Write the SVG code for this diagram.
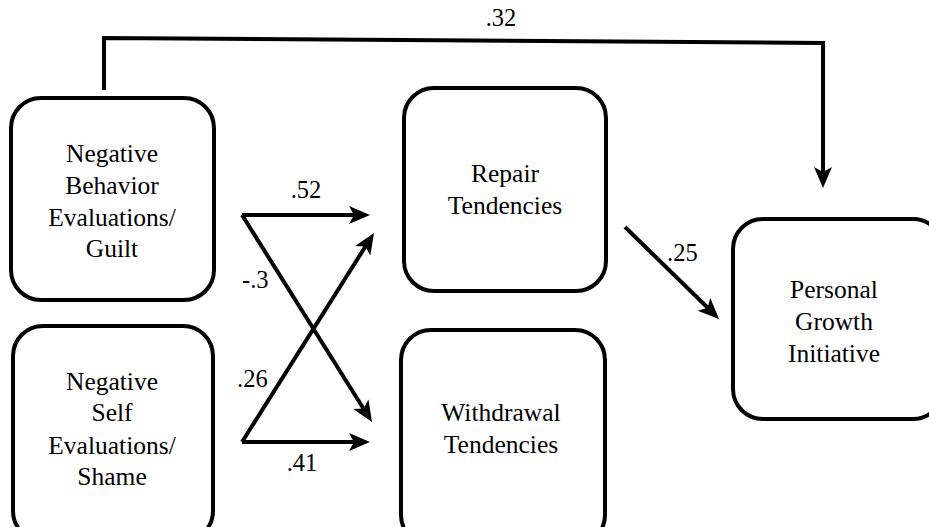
<svg xmlns="http://www.w3.org/2000/svg" width="929" height="527" viewBox="0 0 929 527">
<defs>
<style>
.box{fill:#fff;stroke:#000;stroke-width:4}
.t{font-family:'Liberation Serif','Times New Roman',serif;font-size:25.5px;fill:#000;text-anchor:middle}
.l{font-family:'Liberation Serif','Times New Roman',serif;font-size:24.5px;fill:#000}
.c{fill:none;stroke:#000;stroke-width:4}
</style>
<path id="ah" d="M0,0 L-21,-9 L-16,0 L-21,9 Z" fill="#000"/>
</defs>
<rect width="929" height="527" fill="#fff"/>
<g id="connectors">
<polyline class="c" points="104,90 104,38 823,43 823,175"/>
<use href="#ah" transform="translate(823,188) rotate(90)"/>
<line class="c" x1="242" y1="215" x2="358" y2="215"/>
<use href="#ah" transform="translate(370,215)"/>
<line class="c" x1="242" y1="215" x2="365" y2="411"/>
<use href="#ah" transform="translate(372,422) rotate(57.9)"/>
<line class="c" x1="242" y1="442" x2="358" y2="442"/>
<use href="#ah" transform="translate(370,442)"/>
<line class="c" x1="242" y1="442" x2="367" y2="244"/>
<use href="#ah" transform="translate(374,233) rotate(-57.7)"/>
<line class="c" x1="625" y1="227" x2="710" y2="310"/>
<use href="#ah" transform="translate(719,319) rotate(44.4)"/>
<text class="l" x="501" y="26" text-anchor="middle">.32</text>
<text class="l" x="306" y="198" text-anchor="middle">.52</text>
<text class="l" x="242" y="288">-.3</text>
<text class="l" x="237" y="387">.26</text>
<text class="l" x="302" y="471" text-anchor="middle">.41</text>
<text class="l" x="667" y="261">.25</text>
</g>
<g id="guilt">
<rect class="box" x="11" y="98" width="203" height="202" rx="30"/>
<text class="t" x="112" y="162">Negative</text>
<text class="t" x="112" y="194">Behavior</text>
<text class="t" x="112" y="226">Evaluations/</text>
<text class="t" x="112" y="257">Guilt</text>
</g>
<g id="shame">
<rect class="box" x="13" y="326" width="200" height="215" rx="30"/>
<text class="t" x="112" y="390">Negative</text>
<text class="t" x="112" y="421">Self</text>
<text class="t" x="112" y="454">Evaluations/</text>
<text class="t" x="112" y="485">Shame</text>
</g>
<g id="repair">
<rect class="box" x="404" y="88" width="202" height="203" rx="30"/>
<text class="t" x="505" y="182">Repair</text>
<text class="t" x="505" y="214">Tendencies</text>
</g>
<g id="withdrawal">
<rect class="box" x="401" y="330" width="204" height="215" rx="30"/>
<text class="t" x="501" y="421">Withdrawal</text>
<text class="t" x="501" y="453">Tendencies</text>
</g>
<g id="pgi">
<rect class="box" x="733" y="219" width="210" height="200" rx="30"/>
<text class="t" x="834" y="298">Personal</text>
<text class="t" x="834" y="330">Growth</text>
<text class="t" x="834" y="362">Initiative</text>
</g>
</svg>
